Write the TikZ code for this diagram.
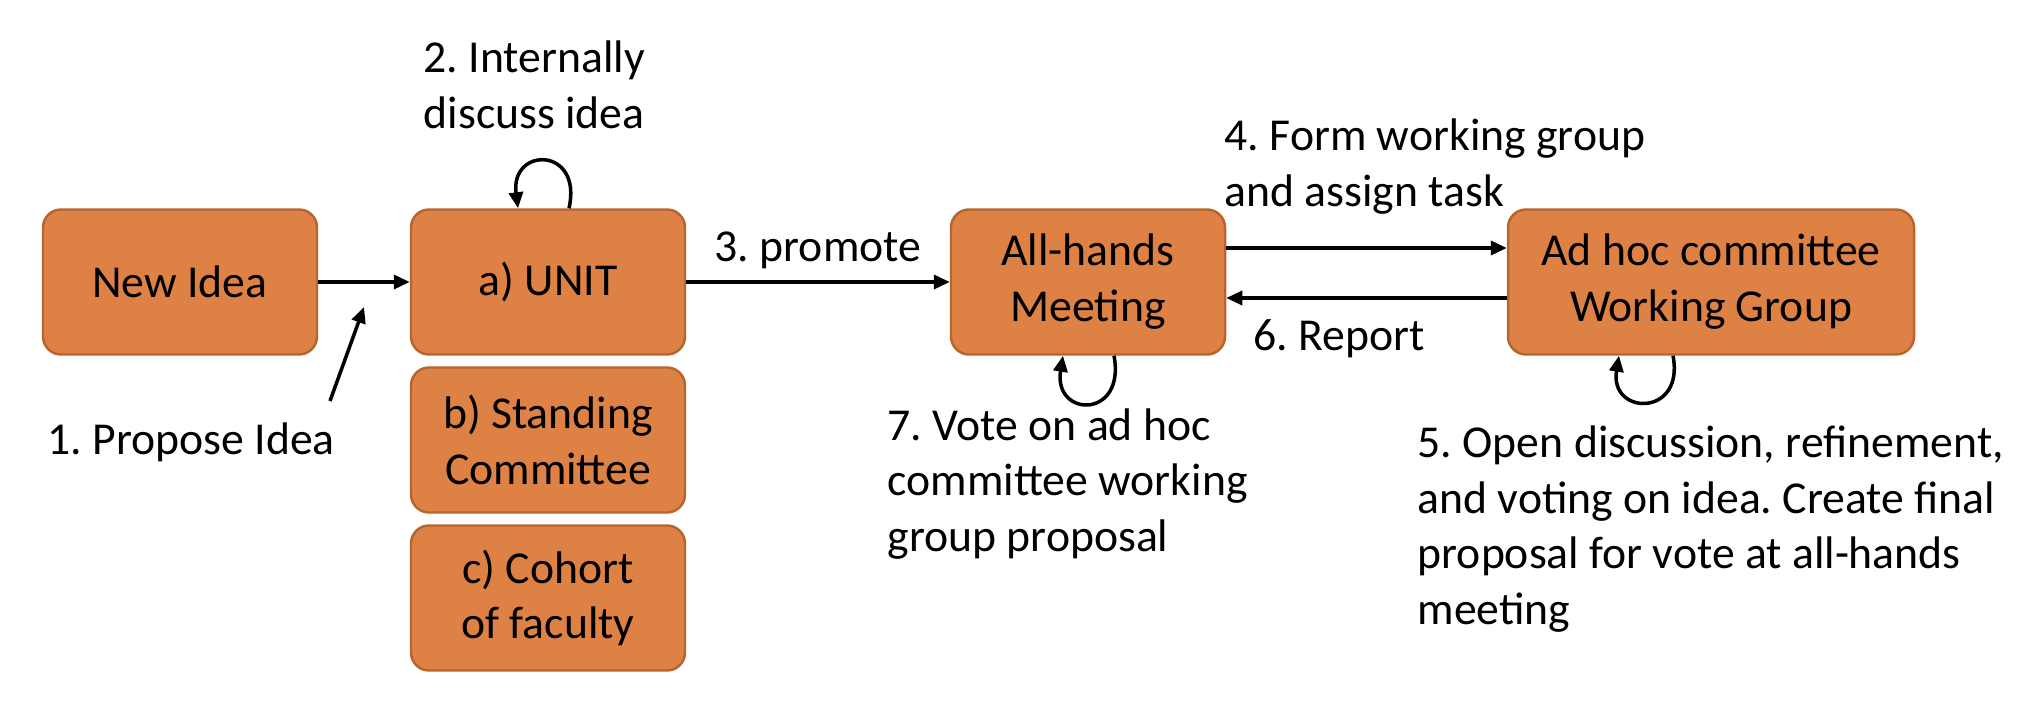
\documentclass[tikz,border=0pt]{standalone}
\usepackage{fontspec}
\setmainfont{Carlito}
\usepackage{tikz}
\usetikzlibrary{arrows.meta}
\definecolor{boxfill}{RGB}{221,130,68}
\definecolor{boxline}{RGB}{181,101,45}
\frenchspacing

\begin{document}
\begin{tikzpicture}[
	stagebox/.style={draw=boxline,line width=0.7pt,fill=boxfill,rounded corners=0.18cm,
		minimum width=2.74cm,minimum height=1.45cm,align=center,inner sep=0pt},
	note/.style={inner sep=0pt,align=left,anchor=west},
	flow/.style={line width=1pt,-{Triangle[length=0.16cm,width=0.14cm]}},
	font=\fontsize{13}{15.9}\selectfont]
\useasboundingbox (0,0) rectangle (20.42,7.04);
\node[stagebox] (idea) at (1.80,4.22) {New Idea};
\node[stagebox] (unit) at (5.48,4.22) {a) UNIT};
\node[stagebox] (standing) at (5.48,2.64) {b) Standing\\Committee};
\node[stagebox] (cohort) at (5.48,1.06) {c) Cohort\\of faculty};
\node[stagebox] (allhands) at (10.88,4.22) {All-hands\\Meeting};
\node[stagebox,minimum width=4.06cm] (adhoc) at (17.11,4.22) {Ad hoc committee\\Working Group};

\node[note] (propose) at (0.47,2.62) {1. Propose Idea};
\node[note] (discuss) at (4.23,6.19) {2. Internally\\discuss idea};
\node[note] (form) at (12.24,5.37) {4. Form working group\\and assign task};
\node[note] (report) at (12.53,3.65) {6. Report};
\node[note] (vote) at (8.87,2.20) {7. Vote on ad hoc\\committee working\\group proposal};
\node[note] (open) at (14.17,1.75) {5. Open discussion, refinement,\\and voting on idea. Create final\\proposal for vote at all-hands\\meeting};

\coordinate (proposetail) at (3.30,3.03);
\coordinate (proposehead) at (3.64,3.97);

\draw[flow] (idea) -- (unit);
\draw[flow] (proposetail) -- (proposehead);
\draw[flow] (unit) -- node[above] {3. promote} (allhands);
\draw[flow] ([yshift=3.4mm]allhands.east) -- ([yshift=3.4mm]adhoc.west);
\draw[flow] ([yshift=-1.6mm]adhoc.west) -- ([yshift=-1.6mm]allhands.east);

% self loops
\draw[flow] ([xshift=2.1mm]unit.north) .. controls +(0.14,0.62) and +(-0.08,0.62) .. ([xshift=-3mm]unit.north);
\draw[flow] ([xshift=2.6mm]allhands.south) .. controls +(0.12,-0.64) and +(-0.1,-0.62) .. ([xshift=-2.5mm]allhands.south);
\draw[flow] ([xshift=-3.8mm]adhoc.south) .. controls +(0.12,-0.62) and +(-0.1,-0.6) .. ([xshift=-9.2mm]adhoc.south);
\end{tikzpicture}
\end{document}
